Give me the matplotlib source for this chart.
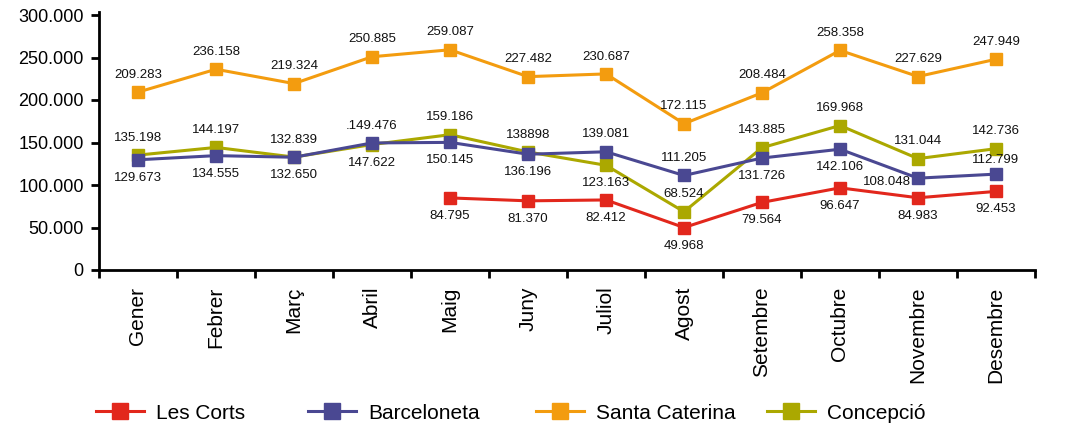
import numpy as np
import matplotlib
matplotlib.use('Agg')
from matplotlib import pyplot as plt
from matplotlib.ticker import FuncFormatter

plt.rcParams['font.family'] = ['Liberation Sans', 'DejaVu Sans']

months = ['Gener', 'Febrer', 'Març', 'Abril', 'Maig', 'Juny', 'Juliol',
          'Agost', 'Setembre', 'Octubre', 'Novembre', 'Desembre']

les_corts = [np.nan, np.nan, np.nan, np.nan, 84795, 81370, 82412, 49968,
             79564, 96647, 84983, 92453]
barceloneta = [129673, 134555, 132650, 149476, 150145, 136196, 139081,
               111205, 131726, 142106, 108048, 112799]
santa_caterina = [209283, 236158, 219324, 250885, 259087, 227482, 230687,
                  172115, 208484, 258358, 227629, 247949]
concepcio = [135198, 144197, 132839, 147622, 159186, 138898, 123163,
             68524, 143885, 169968, 131044, 142736]

# labels as printed on the original chart
label_fix = {('Barceloneta', 3): '.149.476', ('Concepció', 5): '138898'}

# where each value label sits: a = above, A = just above, b = below, l = left
pos_les_corts = ['b'] * 12
pos_barceloneta = ['b', 'b', 'b', 'a', 'b', 'b', 'a', 'a', 'b', 'b', 'l', 'A']
pos_santa_caterina = ['a'] * 12
pos_concepcio = ['a', 'a', 'a', 'b', 'a', 'a', 'b', 'a', 'a', 'a', 'a', 'a']

# name, values, colour, label places, drawing order
series = [
    ('Les Corts', les_corts, '#E2271C', pos_les_corts, 3),
    ('Barceloneta', barceloneta, '#4A4892', pos_barceloneta, 3.2),
    ('Santa Caterina', santa_caterina, '#F39C0F', pos_santa_caterina, 3),
    ('Concepció', concepcio, '#ABA800', pos_concepcio, 3.1),
]

# left edge (px) of each legend entry
legend_x = [96, 308, 536, 767]


def dotted(v):
    return f'{int(v):,}'.replace(',', '.')


fig = plt.figure(figsize=(10.79, 4.28), dpi=100)
ax = fig.add_axes([99 / 1079, 1 - 270 / 428, (1035 - 99) / 1079, 255 / 428])

x = np.arange(len(months))
lines = []
for name, vals, color, pos, z in series:
    ln, = ax.plot(x, vals, color=color, lw=2.2, marker='s', markersize=8.7,
                  label=name, clip_on=False, zorder=z)
    lines.append(ln)
    for i, v in enumerate(vals):
        if np.isnan(v):
            continue
        txt = label_fix.get((name, i), dotted(v))
        p = pos[i]
        if p == 'a':
            off, ha = (0, 12.5), 'center'
        elif p == 'A':
            off, ha = (0, 10), 'center'
        elif p == 'b':
            off, ha = (0, -13), 'center'
        else:
            off, ha = (-5, -3), 'right'
        ax.annotate(txt, (i, v), xytext=off, textcoords='offset points',
                    ha=ha, va='center', fontsize=9.5, color='#111111',
                    zorder=4)

ax.set_xlim(-0.5, len(months) - 0.5)
ax.set_ylim(0, 300000)
ax.set_yticks(np.arange(0, 300001, 50000))
ax.yaxis.set_major_formatter(FuncFormatter(lambda v, p: dotted(v)))
ax.spines['left'].set_bounds(0, 303000)

ax.set_xticks(np.arange(-0.5, len(months), 1.0))
ax.set_xticklabels([])
ax.set_xticks(x, minor=True)
ax.set_xticklabels(months, minor=True, rotation=90, ha='center', va='top',
                   fontsize=15)
ax.tick_params(axis='x', which='major', direction='out', length=6, width=2)
ax.tick_params(axis='x', which='minor', length=0, pad=12)
ax.tick_params(axis='y', direction='out', length=6, width=2, labelsize=13,
               pad=5)

for s in ['top', 'right']:
    ax.spines[s].set_visible(False)
for s in ['left', 'bottom']:
    ax.spines[s].set_linewidth(2)

for ln, lx in zip(lines, legend_x):
    leg = fig.legend([ln], [ln.get_label()], loc='center left',
                     bbox_to_anchor=(lx / 1079, 0.035), frameon=False,
                     fontsize=15, handlelength=2.3, handletextpad=0.6,
                     borderaxespad=0, borderpad=0, markerscale=1.3)

fig.savefig('out.png', dpi=100)
